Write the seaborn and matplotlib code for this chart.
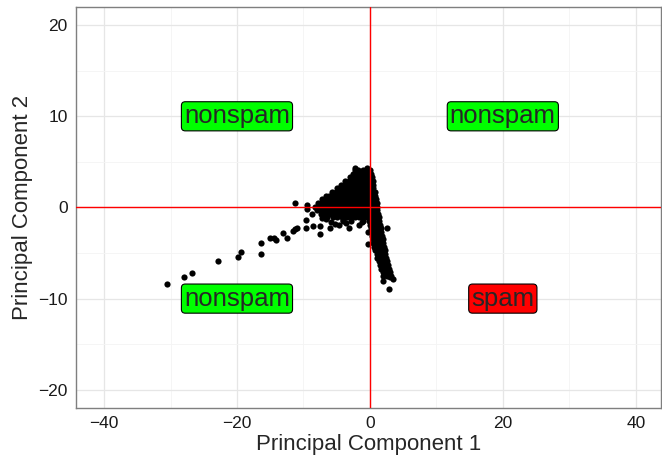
import numpy as np
import pandas as pd
import matplotlib
matplotlib.use("Agg")
import matplotlib.pyplot as plt
import seaborn as sns

# Outlying points along the left tail
tail_x = [-30.6, -27.9, -26.7, -22.9, -19.8, -19.4, -16.4, -16.4, -15.0, -14.5, -14.2,
          -13.1, -12.5, -11.6, -11.3, -10.9, -11.25, -9.6, -9.6, -9.5, -9.4, -8.5,
          -8.75, -7.5, -7.5, -7.25, -6.0, -5.9, -4.6, -4.0, -3.15, -1.15, -0.25, -0.25,
          2.0, 3.5, 2.9, 2.5, 3.0, -5.2, -3.6, -6.6, -2.3, -0.5, -1.6]
tail_y = [-8.4, -7.6, -7.2, -5.9, -5.4, -4.9, -5.1, -3.9, -3.3, -3.4, -3.6,
          -2.8, -3.3, -2.6, -2.4, -2.2, 0.5, -2.3, -1.4, 0.3, -0.15, -2.0,
          -0.7, -2.9, -2.0, -1.2, -2.2, -1.6, -1.9, -1.4, -2.2, -1.6, -4.05, -2.7,
          -8.1, -7.9, -8.9, -2.2, -7.6, -1.8, -1.7, -1.3, 4.3, 4.3, -1.9]

# Dense core: rows of PC2 with the PC1 values seen along that row
core_rows = [
    (4.1, [-2.2, -1.8, -1.1, -0.3, 0.0]),
    (3.7, [-2.5, -1.9, -1.4, -0.9, -0.4, 0.1]),
    (3.3, [-3.0, -2.6, -2.0, -1.5, -1.0, -0.5, 0.0, 0.3]),
    (2.9, [-3.7, -3.1, -2.6, -2.1, -1.6, -1.1, -0.6, -0.1, 0.4]),
    (2.5, [-4.4, -3.9, -3.4, -2.9, -2.4, -1.9, -1.4, -0.9, -0.4, 0.1, 0.5]),
    (2.1, [-5.0, -4.5, -4.0, -3.5, -3.0, -2.5, -2.0, -1.5, -1.0, -0.5, 0.0, 0.5]),
    (1.7, [-5.7, -5.1, -4.6, -4.1, -3.6, -3.1, -2.6, -2.1, -1.6, -1.1, -0.6, -0.1, 0.4, 0.7]),
    (1.3, [-6.6, -6.1, -5.6, -5.1, -4.6, -4.1, -3.6, -3.1, -2.6, -2.1, -1.6, -1.1, -0.6, -0.1, 0.4, 0.8]),
    (0.9, [-7.2, -6.7, -6.2, -5.7, -5.2, -4.7, -4.2, -3.7, -3.2, -2.7, -2.2, -1.7, -1.2, -0.7, -0.2, 0.3, 0.9]),
    (0.5, [-7.8, -7.3, -6.8, -6.3, -5.8, -5.3, -4.8, -4.3, -3.8, -3.3, -2.8, -2.3, -1.8, -1.3, -0.8, -0.3, 0.2, 0.7, 1.0]),
    (0.1, [-8.3, -7.8, -7.3, -6.8, -6.3, -5.8, -5.3, -4.8, -4.3, -3.8, -3.3, -2.8, -2.3, -1.8, -1.3, -0.8, -0.3, 0.2, 0.7, 1.0]),
    (-0.3, [-8.0, -7.5, -7.0, -6.5, -6.0, -5.5, -5.0, -4.5, -4.0, -3.5, -3.0, -2.5, -2.0, -1.5, -1.0, -0.5, 0.0, 0.5, 1.1]),
    (-0.7, [-7.4, -6.9, -6.4, -5.9, -5.4, -4.9, -4.4, -3.9, -3.4, -2.9, -2.4, -1.9, -1.4, -0.9, -0.4, 0.1, 0.6, 1.2]),
    (-1.1, [-6.5, -5.6, -4.9, -4.2, -3.5, -2.8, -2.2, -1.6, -1.0, -0.5, 0.0, 0.5, 0.9, 1.3]),
    (-1.5, [-4.0, -2.8, -1.0, -0.2, 0.3, 0.8, 1.3]),
    (-1.9, [0.0, 0.5, 1.0, 1.5]),
    (-2.3, [0.1, 0.6, 1.1, 1.6]),
    (-2.7, [0.2, 0.7, 1.2, 1.7]),
    (-3.1, [0.3, 0.8, 1.3, 1.8]),
    (-3.5, [0.4, 0.9, 1.4, 1.9]),
    (-3.9, [0.5, 1.0, 1.5, 2.0]),
    (-4.3, [0.6, 1.1, 1.6, 2.1]),
    (-4.7, [0.8, 1.3, 1.8, 2.2]),
    (-5.1, [1.0, 1.5, 2.0, 2.3]),
    (-5.5, [1.1, 1.6, 2.1, 2.4]),
    (-5.9, [1.3, 1.8, 2.3, 2.6]),
    (-6.3, [1.5, 2.0, 2.5, 2.7]),
    (-6.7, [1.7, 2.2, 2.8]),
    (-7.1, [1.9, 2.4, 3.0]),
    (-7.5, [2.0, 2.6, 3.1]),
]

# Quadrant labels
label_text = ["nonspam", "nonspam", "nonspam", "spam"]
label_x = [-20, 20, -20, 20]
label_y = [10, 10, -10, -10]
label_fill = ["#00FF00", "#00FF00", "#00FF00", "#FF0000"]

pc1 = list(tail_x)
pc2 = list(tail_y)
for yv, xs in core_rows:
    pc1 += xs
    pc2 += [yv] * len(xs)
df = pd.DataFrame({"PC1": pc1, "PC2": pc2})

sns.set_style("white")
plt.rcParams["font.family"] = ["Liberation Sans", "DejaVu Sans"]

fig, ax = plt.subplots(figsize=(6.62, 4.61), dpi=100)
fig.subplots_adjust(left=0.115, right=0.9985, top=0.985, bottom=0.115)

sns.scatterplot(data=df, x="PC1", y="PC2", color="black", s=20, linewidth=0, ax=ax, zorder=3)

ax.axhline(0, color="#ff0000", lw=1.0, zorder=4)
ax.axvline(0, color="#ff0000", lw=1.0, zorder=4)

for t, x, y, c in zip(label_text, label_x, label_y, label_fill):
    ax.text(x, y, t, ha="center", va="center", fontsize=18.5, zorder=5,
            bbox=dict(boxstyle="round,pad=0.1,rounding_size=0.15", fc=c, ec="black", lw=0.8))

ax.set_xlim(-44.2, 43.8)
ax.set_ylim(-22, 22)
ax.set_xticks([-40, -20, 0, 20, 40])
ax.set_yticks([-20, -10, 0, 10, 20])
ax.set_xticks([-30, -10, 10, 30], minor=True)
ax.set_yticks([-15, -5, 5, 15], minor=True)
ax.grid(True, which="major", color="#e6e6e6", lw=0.9)
ax.grid(True, which="minor", color="#f4f4f4", lw=0.6)
ax.set_axisbelow(True)
ax.tick_params(axis="both", which="major", direction="out", length=4, width=0.8,
               color="#333333", labelsize=12.5, labelcolor="#1a1a1a", pad=2)
ax.tick_params(axis="both", which="minor", length=0)
for sp in ax.spines.values():
    sp.set_color("#7f7f7f")
    sp.set_linewidth(1.0)

ax.set_xlabel("Principal Component 1", fontsize=16, labelpad=2)
ax.set_ylabel("Principal Component 2", fontsize=16, labelpad=4)

fig.savefig("out.png", dpi=100)
